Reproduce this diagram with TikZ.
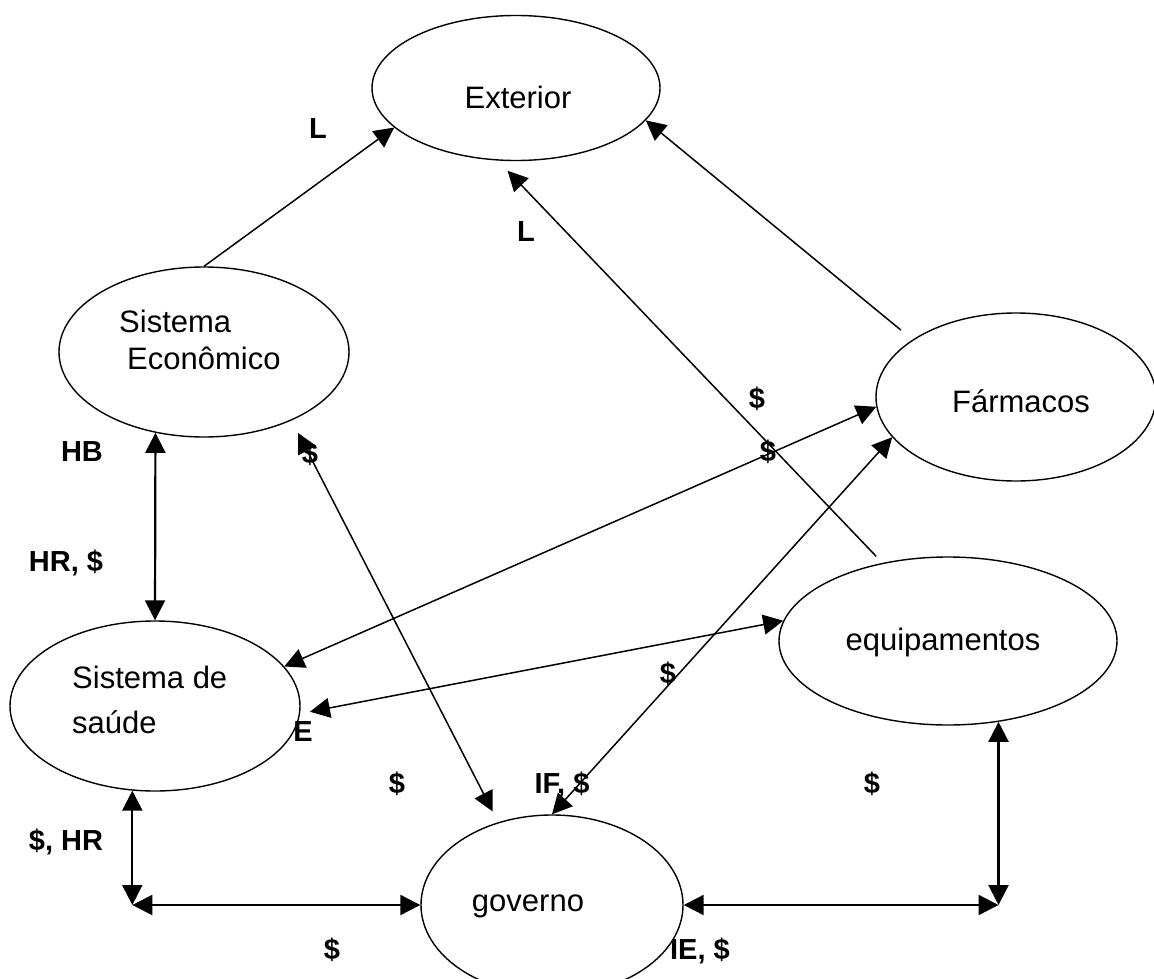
\documentclass[tikz,border=0pt]{standalone}
\usepackage{fontspec}
\setmainfont{Liberation Sans}
\usetikzlibrary{shapes.geometric,arrows.meta}
\tikzset{
  ell/.style={ellipse, draw, line width=1.4pt, inner sep=0pt},
  txt/.style={font=\fontsize{31}{37}\selectfont, inner sep=0pt},
  lab/.style={font=\fontsize{29}{35}\selectfont\bfseries, inner sep=0pt, anchor=base},
  tip/.tip={Triangle[length=20pt,width=20pt]},
  arr/.style={line width=1.5pt, -tip},
  darr/.style={line width=1.5pt, tip-tip},
  darrb/.style={line width=2.2pt, tip-tip},
}
\begin{document}
\begin{tikzpicture}[x=1pt,y=-1pt]
\useasboundingbox (0,0) rectangle (1154,979);
% ellipses
\node[ell, minimum width=288pt, minimum height=145pt] (ext) at (516,88) {};
\node[ell, minimum width=290pt, minimum height=170pt] (se) at (204,352) {};
\node[ell, minimum width=280pt, minimum height=168pt] (farm) at (1016,397) {};
\node[ell, minimum width=338pt, minimum height=168pt] (equip) at (948,641) {};
\node[ell, minimum width=290pt, minimum height=170pt] (ss) at (155,706) {};
\node[ell, minimum width=262pt, minimum height=180pt] (gov) at (552,905) {};
% texts
\node[txt, anchor=base] (textext) at (518,109) {Exterior};
\node[txt, anchor=base west] (textse1) at (119,332) {Sistema};
\node[txt, anchor=base west] (textse2) at (127,369) {Econômico};
\node[txt, anchor=base] (textfarm) at (1021,412) {Fármacos};
\node[txt, anchor=base] (textequip) at (943,650) {equipamentos};
\node[txt, anchor=base west] (textss1) at (72,688) {Sistema de};
\node[txt, anchor=base west] (textss2) at (72,733) {saúde};
\node[txt, anchor=base] (textgov) at (528,911) {governo};
% connectors
\draw[arr] (se.north) -- (ext.198);
\draw[arr, shorten <=15pt] (farm.151) -- (ext.346);
\draw[arr, shorten <=9pt, shorten >=14pt] (equip.130) -- (ext.256);
\draw[darrb] (se.239) -- (ss.north);
\draw[darr, shorten <=14pt, shorten >=12pt] (se.322) -- (gov.123);
\draw[darr] (ss.17) -- (farm.184);
\draw[darr] (gov.north) -- (farm.198);
\draw[darr, shorten >=10pt] (equip.173) -- (ss.357);
\coordinate (c1) at (ss.255 |- gov.west);
\coordinate (c2) at (equip.302 |- gov.east);
\draw[darrb] (ss.255) -- (c1);
\draw[darrb] (c1) -- (gov.west);
\draw[darrb] (gov.east) -- (c2);
\draw[darrb] (c2) -- (equip.302);
% labels
\node[lab] (l1) at (318,139) {L};
\node[lab] (l2) at (526,241) {L};
\node[lab] (l3) at (82,461) {HB};
\node[lab] (l4) at (66,571) {HR, \$};
\node[lab] (l5) at (310,463) {\$};
\node[lab] (l6) at (757,408) {\$};
\node[lab] (l7) at (768,461) {\$};
\node[lab] (l8) at (668,683) {\$};
\node[lab] (l9) at (303,741) {E};
\node[lab] (l10) at (397,793) {\$};
\node[lab] (l11) at (562,793) {IF, \$};
\node[lab] (l12) at (872,793) {\$};
\node[lab] (l13) at (66,850) {\$, HR};
\node[lab] (l14) at (332,959) {\$};
\node[lab] (l15) at (700,959) {IE, \$};
\end{tikzpicture}
\end{document}
